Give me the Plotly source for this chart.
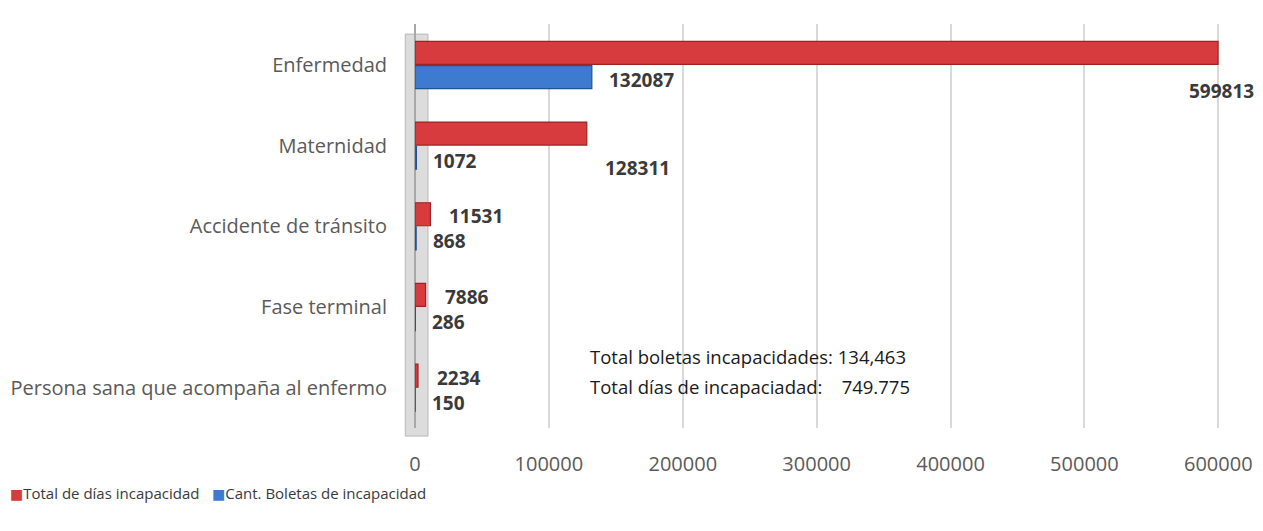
import plotly.graph_objects as go

categories = ["Enfermedad", "Maternidad", "Accidente de tránsito", "Fase terminal",
              "Persona sana que acompaña al enfermo"]
total_dias = [599813, 128311, 11531, 7886, 2234]
cant_boletas = [132087, 1072, 868, 286, 150]
x_ticks = [0, 100000, 200000, 300000, 400000, 500000, 600000]
legend_names = ["Total de días incapacidad", "Cant. Boletas de incapacidad"]
summary_lines = ["Total boletas incapacidades: 134,463",
                 "Total días de incapaciadad:    749.775"]

# label offsets (pixels) for the red-series labels: (xshift, yshift)
red_label_offsets = [(-31, -26), (16, -22), (17, 10), (17, 10), (17, 10)]

RED = "#D83B3D"
BLUE = "#3C7BD0"
FONT = "Open Sans"

fig = go.Figure()
fig.add_trace(go.Bar(
    y=categories, x=total_dias, orientation="h", name=legend_names[0],
    marker=dict(color=RED, line=dict(color="#9E2224", width=1.2)),
))
fig.add_trace(go.Bar(
    y=categories, x=cant_boletas, orientation="h", name=legend_names[1],
    marker=dict(color=BLUE, line=dict(color="#23528F", width=1.2)),
))

annotations = []
lab_font = dict(family=FONT, size=19, color="#3A3A3A")
for i, cat in enumerate(categories):
    dx, dy = red_label_offsets[i]
    annotations.append(dict(
        x=total_dias[i], y=cat, xref="x", yref="y", text=f"<b>{total_dias[i]}</b>",
        showarrow=False, xanchor="left", yanchor="middle",
        xshift=dx, yshift=dy, font=lab_font))
    annotations.append(dict(
        x=cant_boletas[i], y=cat, xref="x", yref="y", text=f"<b>{cant_boletas[i]}</b>",
        showarrow=False, xanchor="left", yanchor="middle",
        xshift=15, yshift=-15, font=lab_font))

for line, ypos in zip(summary_lines, [0.178, 0.1015]):
    annotations.append(dict(
        x=0.2136, y=ypos, xref="paper", yref="paper", xanchor="left", yanchor="middle",
        text=line.replace("  ", "&nbsp;&nbsp;"), align="left", showarrow=False,
        font=dict(family=FONT, size=18.5, color="#1A1A1A")))

# legend entries (compact, like the original)
for name, col, xpos in zip(legend_names, [RED, BLUE], [-0.502, -0.253]):
    annotations.append(dict(
        x=xpos, y=-0.161, xref="paper", yref="paper", xanchor="left", yanchor="middle",
        text=f"<span style='color:{col};font-family:DejaVu Sans;font-size:14px'>■</span>{name}",
        showarrow=False, font=dict(family=FONT, size=15, color="#3A3A3A")))

shapes = [
    # 3-D style back wall at the value axis origin
    dict(type="rect", xref="paper", yref="paper", x0=-0.012, x1=0.016, y0=-0.02, y1=0.975,
         fillcolor="#DCDCDC", line=dict(color="#B8B8B8", width=1), layer="below"),
    # white box behind the summary text
    dict(type="rect", xref="paper", yref="paper", x0=0.2, x1=1.06, y0=-0.02, y1=0.19,
         fillcolor="white", line=dict(width=0), layer="between"),
]

fig.update_layout(
    width=1255, height=523,
    margin=dict(l=407, r=38, t=16, b=103, autoexpand=False),
    paper_bgcolor="white", plot_bgcolor="white",
    barmode="group", bargap=0.4, bargroupgap=0.05,
    font=dict(family=FONT, size=16, color="#595959"),
    showlegend=False,
    annotations=annotations,
    shapes=shapes,
)
fig.update_xaxes(
    range=[0, 605000], tickvals=x_ticks, ticktext=[str(v) for v in x_ticks],
    showgrid=True, gridcolor="#D9D9D9", gridwidth=2,
    zeroline=True, zerolinecolor="#A8A8A8", zerolinewidth=2,
    showline=False, ticks="", ticklabelstandoff=22, automargin=False,
    tickfont=dict(family=FONT, size=20, color="#5A5A5A"),
)
fig.update_yaxes(
    autorange="reversed", showgrid=False, showline=False, ticks="",
    ticklabelstandoff=27, automargin=False,
    tickfont=dict(family=FONT, size=20, color="#5A5A5A"),
)

fig.write_html("out.html")
